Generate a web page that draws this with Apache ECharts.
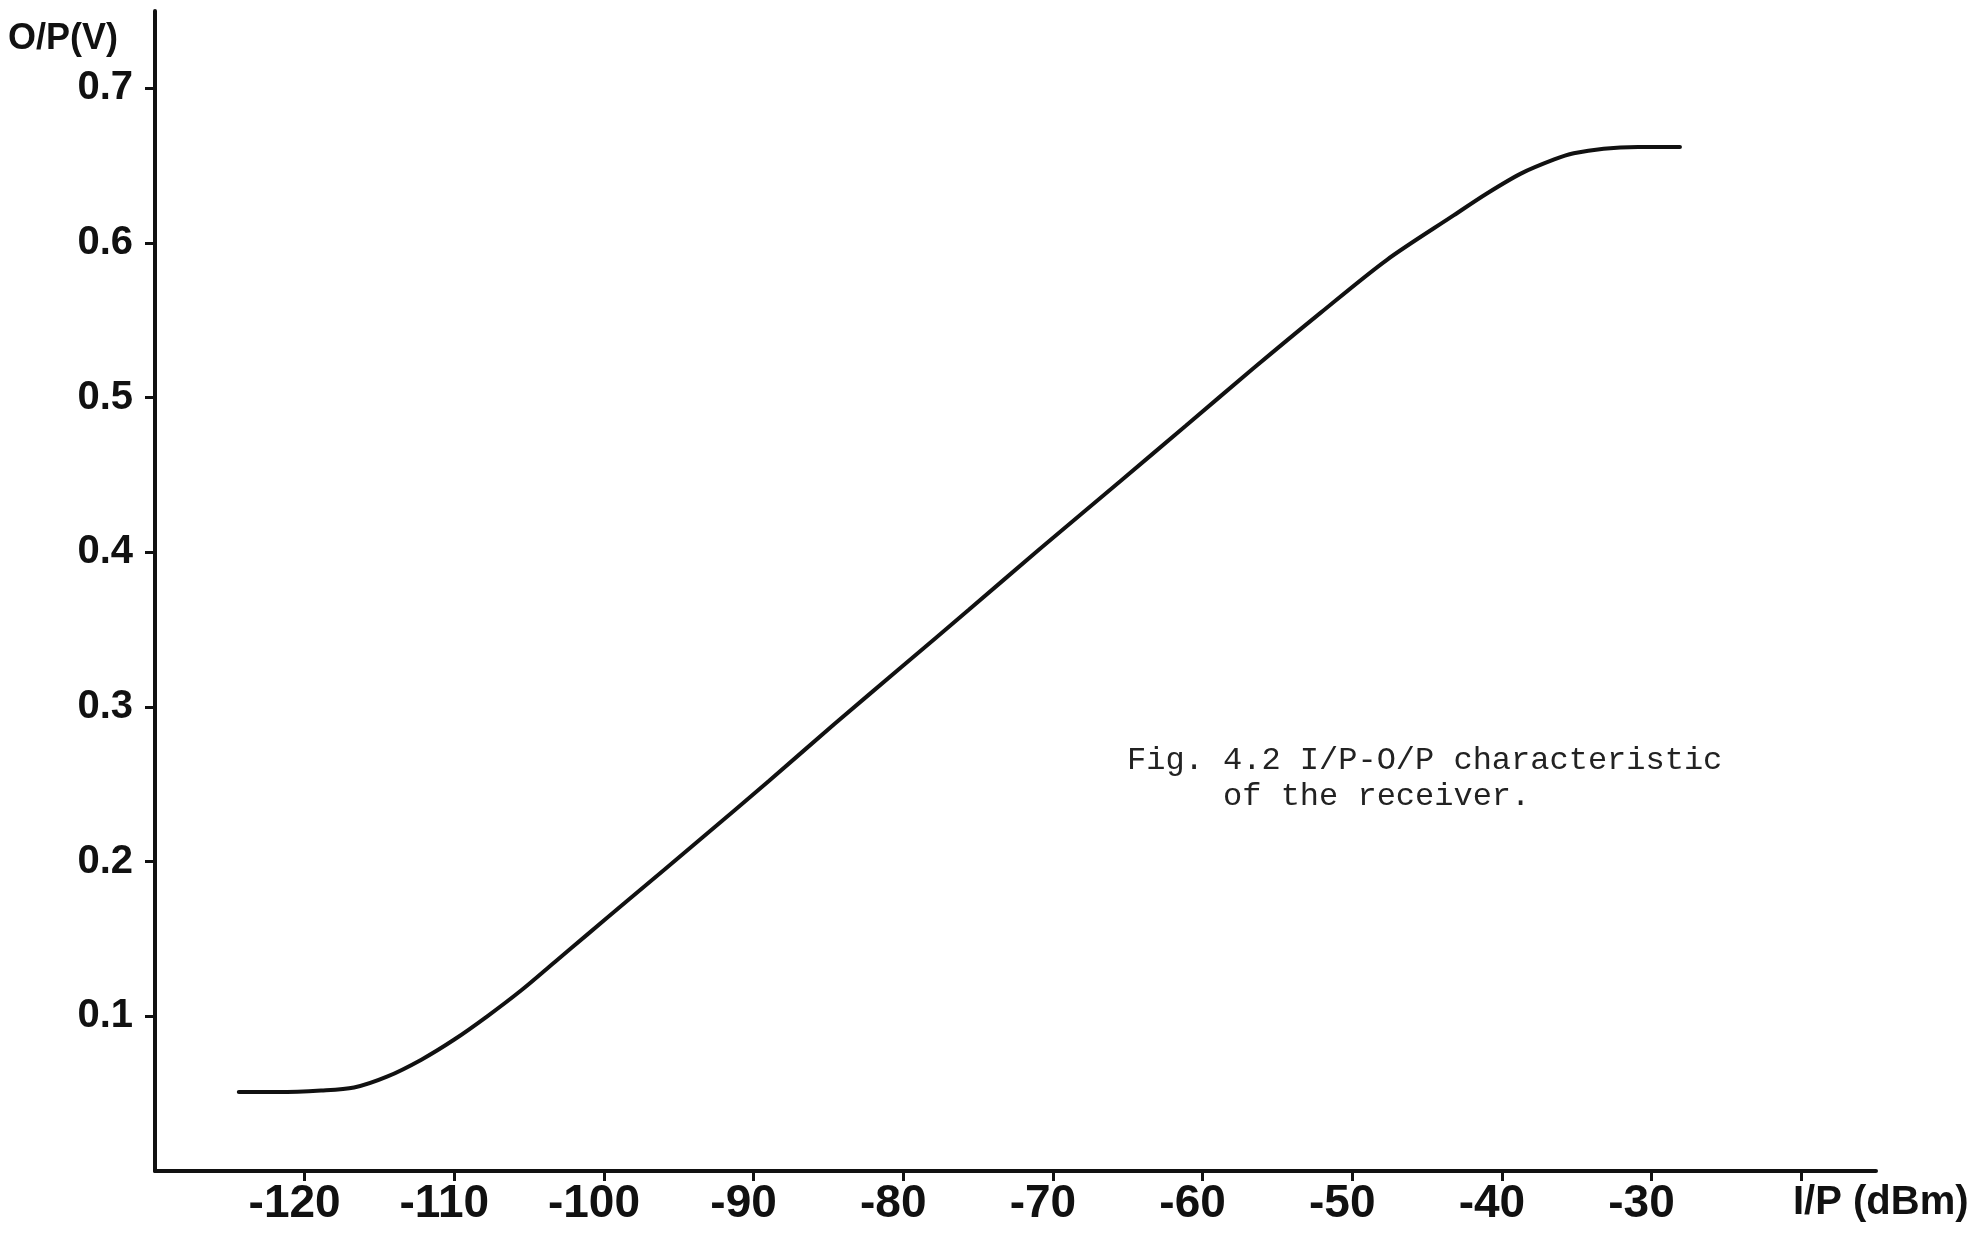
<!DOCTYPE html>
<html>
<head>
<meta charset="utf-8">
<script src="https://cdn.jsdelivr.net/npm/echarts@6/dist/echarts.min.js"></script>
<style>
  html, body { margin: 0; padding: 0; background: #ffffff; }
  #chart { width: 1968px; height: 1240px; }
</style>
</head>
<body>
<div id="chart"></div>
<script>
// ---- Data ----
const inputDbm = [-124.4, -121.8, -118.9, -116.7, -114.5, -112.2, -110.0, -107.8, -105.5, -103.3, -101.1, -98.4,
                  -93.5, -89.0, -84.6, -80.1, -75.6, -70.9, -65.5, -61.1, -56.6, -52.1, -47.7,
                  -43.2, -41.0, -38.7, -36.5, -35.2, -33.2, -30.9, -28.1];
const outputV  = [0.051, 0.051, 0.052, 0.054, 0.061, 0.072, 0.085, 0.100, 0.117, 0.135, 0.153, 0.175,
                  0.215, 0.252, 0.289, 0.326, 0.363, 0.402, 0.446, 0.482, 0.519, 0.555, 0.589,
                  0.618, 0.632, 0.645, 0.654, 0.658, 0.661, 0.662, 0.662];
const xTickValues = [-120, -110, -100, -90, -80, -70, -60, -50, -40, -30, -20];
const xLabelValues = [-120, -110, -100, -90, -80, -70, -60, -50, -40, -30];
const yTickValues = [0.1, 0.2, 0.3, 0.4, 0.5, 0.6, 0.7];
const xAxisTitle = 'I/P (dBm)';
const yAxisTitle = 'O/P(V)';
const captionText = 'Fig. 4.2 I/P-O/P characteristic\n     of the receiver.';

const seriesData = inputDbm.map((x, i) => [x, outputV[i]]);

const axisFont = "'Liberation Sans', Arial, sans-serif";
const ink = '#111111';

const chart = echarts.init(document.getElementById('chart'), null, { renderer: 'canvas' });
chart.setOption({
  animation: false,
  backgroundColor: '#ffffff',
  title: {
    text: captionText,
    left: 1127,
    top: 743,
    padding: 0,
    textStyle: {
      fontFamily: "'Liberation Mono', 'DejaVu Sans Mono', monospace",
      fontSize: 32,
      lineHeight: 36,
      fontWeight: 'normal',
      color: '#222222'
    }
  },
  grid: { left: 155, right: 92, top: 11, bottom: 69, containLabel: false, outerBoundsMode: 'none' },
  xAxis: {
    type: 'value',
    min: -130,
    max: -15,
    interval: 10,
    splitLine: { show: false },
    axisLine: { show: true, onZero: false, lineStyle: { color: ink, width: 4 } },
    axisTick: { show: true, inside: false, length: 10, customValues: xTickValues,
                lineStyle: { color: ink, width: 3 } },
    axisLabel: {
      customValues: xLabelValues,
      margin: 10,
      formatter: v => String(v),
      fontFamily: axisFont,
      fontWeight: 'bold',
      fontSize: 46,
      color: ink,
      padding: [0, 20, 0, 0]
    },
    name: xAxisTitle,
    nameLocation: 'end',
    nameGap: -83,
    nameTextStyle: {
      fontFamily: axisFont,
      fontWeight: 'bold',
      fontSize: 40,
      color: ink,
      align: 'left',
      verticalAlign: 'top',
      padding: [12, 0, 0, 0]
    }
  },
  yAxis: {
    type: 'value',
    min: 0,
    max: 0.75,
    interval: 0.1,
    splitLine: { show: false },
    axisLine: { show: true, onZero: false, lineStyle: { color: ink, width: 4 } },
    axisTick: { show: true, inside: false, length: 10, customValues: yTickValues,
                lineStyle: { color: ink, width: 3 } },
    axisLabel: {
      customValues: yTickValues,
      margin: 22,
      formatter: v => v.toFixed(1),
      fontFamily: axisFont,
      fontWeight: 'bold',
      fontSize: 40,
      color: ink,
      padding: [6, 0, 0, 0]
    },
    name: yAxisTitle,
    nameLocation: 'end',
    nameGap: -28,
    nameTextStyle: {
      fontFamily: axisFont,
      fontWeight: 'bold',
      fontSize: 36,
      color: ink,
      align: 'right',
      verticalAlign: 'middle',
      padding: [0, 37, 0, 0]
    }
  },
  series: [{
    type: 'line',
    data: seriesData,
    smooth: 0.3,
    showSymbol: false,
    symbol: 'none',
    lineStyle: { color: ink, width: 4, cap: 'round' },
    z: 3
  }]
});
</script>
</body>
</html>
